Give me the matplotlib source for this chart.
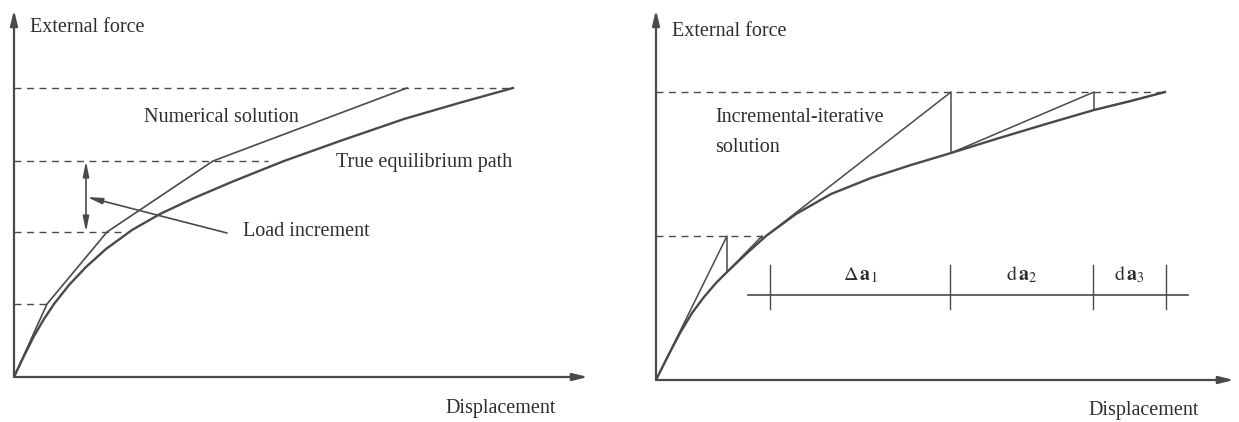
import matplotlib
matplotlib.use("Agg")
import matplotlib.pyplot as plt

plt.rcParams['font.family'] = ['Liberation Serif', 'DejaVu Serif']
plt.rcParams['mathtext.fontset'] = 'stix'

LINE = '#4a4a4a'
TEXT = '#2e2e2e'
FS = 14.5

# ---------------- left panel: load-controlled numerical solution ----------------
true_disp_L = [0, 10, 20, 30, 40, 55, 72, 92, 118, 146, 180, 220, 270, 326,
               390, 445, 499]
true_force_L = [0, 21, 41, 58, 73, 92, 110, 128, 147, 163, 179, 196, 216, 236,
                258, 274, 289]

num_disp = [0, 33, 93, 199, 393]
num_force = [0, 73, 145, 216, 289]

load_levels_L = [73, 145, 216, 289]
level_ends_L = [33, 108, 254, 499]

# ---------------- right panel: incremental-iterative solution ----------------
true_disp_R = [0, 12, 24, 36, 48, 60, 71, 90, 110, 140, 175, 215, 255, 295,
               340, 390, 438, 475, 509]
true_force_R = [0, 24, 47, 67, 83, 97, 108, 126, 144, 166, 186, 202, 215, 227,
                241, 256, 270, 279, 288]

iter1_disp = [0, 71, 71, 106, 106]
iter1_force = [0, 144, 108, 144, 141]
iter2_disp = [110, 295, 295, 438, 438, 509]
iter2_force = [144, 288, 227, 288, 270, 288]

load_levels_R = [144, 288]
level_ends_R = [106, 512]

step_marks = [114, 294, 437, 510]
step_labels = [r'$\Delta\,\mathbf{a}_1$', r'$\mathrm{d}\,\mathbf{a}_2$', r'$\mathrm{d}\,\mathbf{a}_3$']

W, H = 1239, 422
fig = plt.figure(figsize=(W / 100, H / 100), dpi=100)
fig.patch.set_facecolor('white')


def make_axes(x0, y0, w, h):
    ax = fig.add_axes([x0 / W, (H - y0) / H, w / W, h / H])
    ax.set_xlim(0, w)
    ax.set_ylim(0, h)
    ax.axis('off')
    return ax


def draw_axes_arrows(ax, xend, yend):
    style = dict(arrowstyle='-|>,head_length=0.9,head_width=0.22', lw=1.6,
                 color=LINE, shrinkA=0, shrinkB=0)
    ax.annotate('', xy=(xend, 0), xytext=(0, 0), arrowprops=style, annotation_clip=False)
    ax.annotate('', xy=(0, yend), xytext=(0, 0), arrowprops=style, annotation_clip=False)


# left
axL = make_axes(14, 377, 600, 377)
draw_axes_arrows(axL, 574, 367)
for lv, end in zip(load_levels_L, level_ends_L):
    axL.plot([0, end], [lv, lv], color=LINE, lw=1.0, dashes=(5, 4))
axL.plot(true_disp_L, true_force_L, color=LINE, lw=1.7, solid_joinstyle='round')
axL.plot(num_disp, num_force, color=LINE, lw=1.2)
axL.annotate('', xy=(72, load_levels_L[2]), xytext=(72, load_levels_L[1]),
             arrowprops=dict(arrowstyle='<|-|>,head_length=0.9,head_width=0.18',
                             lw=1.2, color=LINE, shrinkA=0, shrinkB=0))
axL.annotate('', xy=(73, 180), xytext=(213, 144),
             arrowprops=dict(arrowstyle='-|>,head_length=0.9,head_width=0.18',
                             lw=1.2, color=LINE, shrinkA=0, shrinkB=0))
axL.text(16, 349, 'External force', fontsize=FS, color=TEXT, va='center', ha='left')
axL.text(431, -31, 'Displacement', fontsize=FS, color=TEXT, va='center', ha='left')
axL.text(130, 260, 'Numerical solution', fontsize=FS, color=TEXT, va='center', ha='left')
axL.text(322, 215, 'True equilibrium path', fontsize=FS, color=TEXT, va='center', ha='left')
axL.text(229, 145, 'Load increment', fontsize=FS, color=TEXT, va='center', ha='left')

# right
axR = make_axes(656, 380, 583, 380)
draw_axes_arrows(axR, 578, 370)
for lv, end in zip(load_levels_R, level_ends_R):
    axR.plot([0, end], [lv, lv], color=LINE, lw=1.0, dashes=(5, 4))
axR.plot(true_disp_R, true_force_R, color=LINE, lw=1.7, solid_joinstyle='round')
axR.plot(iter1_disp, iter1_force, color=LINE, lw=1.1)
axR.plot(iter2_disp, iter2_force, color=LINE, lw=1.1)

dim_y = 85
axR.plot([92, 532], [dim_y, dim_y], color=LINE, lw=1.2)
for m in step_marks:
    axR.plot([m, m], [dim_y - 14, dim_y + 30], color=LINE, lw=1.0)
for a, b, lab in zip(step_marks[:-1], step_marks[1:], step_labels):
    axR.text((a + b) / 2, 105, lab, fontsize=FS, color=TEXT, ha='center', va='center')

axR.text(16, 348, 'External force', fontsize=FS, color=TEXT, va='center', ha='left')
axR.text(432, -30, 'Displacement', fontsize=FS, color=TEXT, va='center', ha='left')
axR.text(59, 262, 'Incremental-iterative', fontsize=FS, color=TEXT, va='center', ha='left')
axR.text(59, 233, 'solution', fontsize=FS, color=TEXT, va='center', ha='left')

fig.savefig('out.png', dpi=100, facecolor='white')
